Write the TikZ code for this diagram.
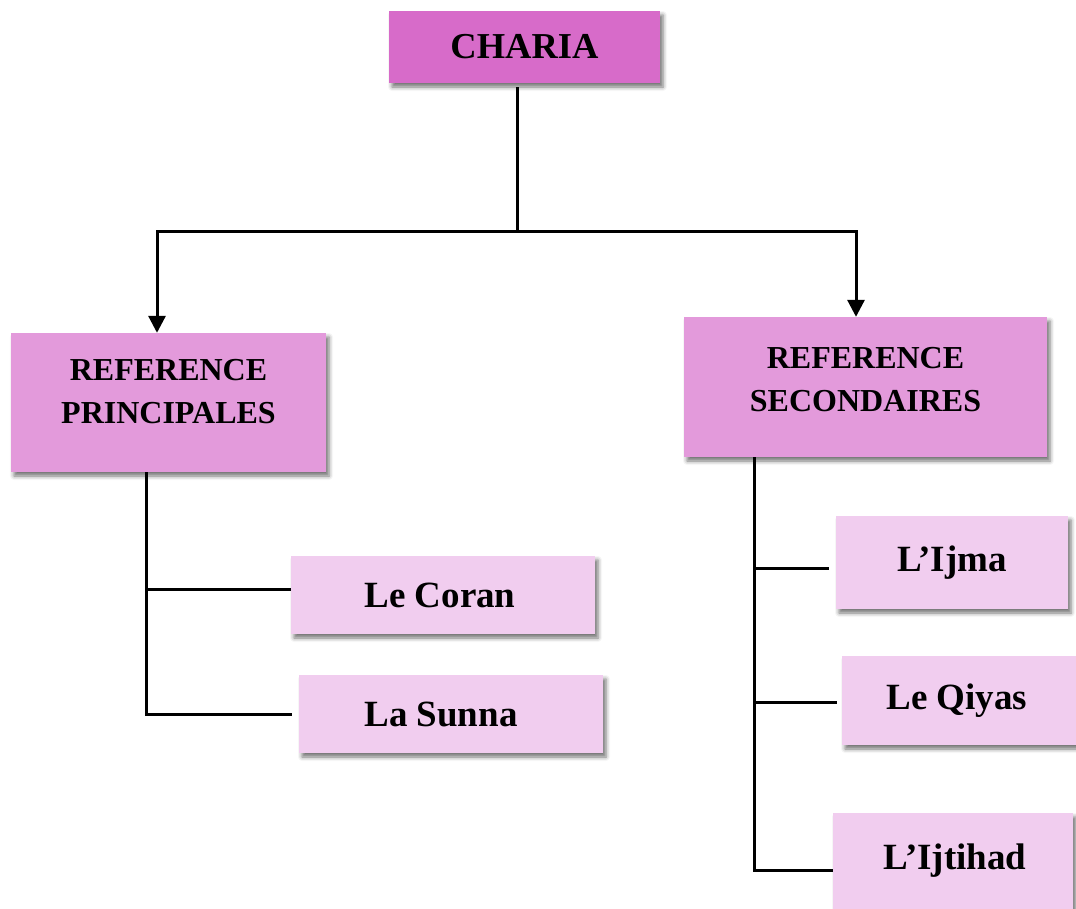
\documentclass[tikz,border=0pt]{standalone}
\usepackage{fontspec}
\setmainfont{Liberation Serif}
\usetikzlibrary{arrows.meta,shadows.blur}
\definecolor{topc}{HTML}{D76BC9}
\definecolor{refc}{HTML}{E39ADB}
\definecolor{leafc}{HTML}{F1CDEF}
\begin{document}
\begin{tikzpicture}[x=1pt,y=-1pt,
  box/.style={draw=none,inner sep=0pt,font=\bfseries,
    blur shadow={shadow xshift=3pt,shadow yshift=-4pt,shadow blur radius=4pt,shadow opacity=55}},
  topbox/.style={box,fill=topc,font=\fontsize{36.5}{44}\selectfont\bfseries},
  refbox/.style={box,fill=refc},
  leafbox/.style={box,fill=leafc,font=\fontsize{37}{44}\selectfont\bfseries},
  reflbl/.style={font=\fontsize{32}{43}\selectfont\bfseries,align=center,inner sep=0pt},
  conn/.style={line width=3pt},
  arr/.style={conn,-{Triangle[width=17pt,length=17pt]}}]
\useasboundingbox (0,0) rectangle (1076,908);

\node[topbox,minimum width=271pt,minimum height=72pt] (charia) at (524.5,47) {CHARIA};
\node[refbox,minimum width=315pt,minimum height=139pt,
  label={[reflbl,yshift=11pt]center:REFERENCE\\PRINCIPALES}] (rp) at (168.5,402.5) {};
\node[refbox,minimum width=363pt,minimum height=140pt,
  label={[reflbl,yshift=7.5pt]center:REFERENCE\\SECONDAIRES}] (rs) at (865.5,387) {};
\node[leafbox,minimum width=304pt,minimum height=78pt] (coran) at (443,595) {\hspace*{-6pt}Le Coran};
\node[leafbox,minimum width=304pt,minimum height=78pt] (sunna) at (451,714) {\hspace*{-20pt}La Sunna};
\node[leafbox,minimum width=232pt,minimum height=93pt] (ijma) at (952,562.5) {L’Ijma};
\node[leafbox,minimum width=238pt,minimum height=89pt] (qiyas) at (961,700.5) {\hspace*{-8pt}Le Qiyas};
\node[leafbox,minimum width=240pt,minimum height=96pt] (ijt) at (953,861) {\hspace*{4pt}L’Ijtihad};

\coordinate (j) at (517,231);
\coordinate (tl) at (146,0);
\coordinate (tr) at (754,0);

\draw[conn,shorten <=4pt] (charia.south -| j) -- (j);
\draw[arr] (j) -| ([xshift=-11.5pt]rp.north);
\draw[arr] (j) -| ([xshift=-9.5pt]rs.north);

\draw[conn] (rp.south -| tl) |- ([xshift=-7pt]sunna.west);
\draw[conn] (tl |- 0,589) -- ([yshift=6pt]coran.west);

\draw[conn] (rs.south -| tr) |- ([yshift=-9pt]ijt.west);
\draw[conn] (tr |- 0,568) -- ([xshift=-7pt,yshift=-5.5pt]ijma.west);
\draw[conn] (tr |- 0,702) -- ([xshift=-5pt,yshift=-1.5pt]qiyas.west);
\end{tikzpicture}
\end{document}
